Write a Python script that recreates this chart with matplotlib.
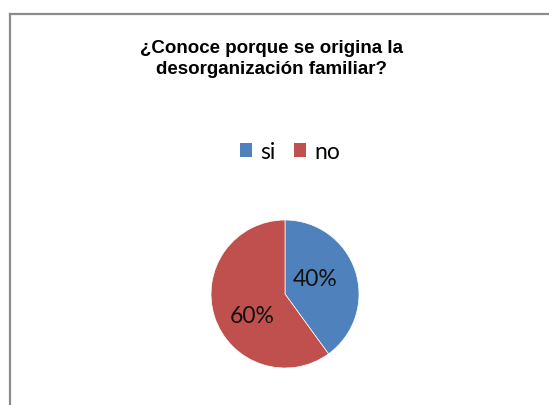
import matplotlib
matplotlib.use('Agg')
import matplotlib.pyplot as plt
from matplotlib.patches import Patch
from matplotlib.lines import Line2D

# Data
labels = ['si', 'no']
values = [40, 60]
colors = ['#4F81BD', '#C0504D']
title = '¿Conoce porque se origina la\ndesorganización familiar?'

W, H = 549, 405
fig = plt.figure(figsize=(W / 100, H / 100), dpi=100)
fig.patch.set_facecolor('white')

# Chart area border (left and top edges visible)
fig.add_artist(Line2D([9.5 / W, 9.5 / W], [0, 1 - 13.5 / H], transform=fig.transFigure,
                      color='#8c8c8c', lw=1.6))
fig.add_artist(Line2D([9.5 / W, 1], [1 - 13.5 / H, 1 - 13.5 / H], transform=fig.transFigure,
                      color='#8c8c8c', lw=1.6))

# Title
fig.text(271 / W, 1 - 59 / H, title, ha='center', va='center', fontsize=13.5,
         fontweight='bold', family='Liberation Sans', linespacing=1.25)

# Pie
cx, cy, r = 285, 294, 74
ax = fig.add_axes([(cx - r) / W, (H - cy - r) / H, 2 * r / W, 2 * r / H])
wedges, texts, autotexts = ax.pie(values, colors=colors, startangle=90, counterclock=False,
                                  autopct='%1.0f%%', pctdistance=0.56,
                                  wedgeprops=dict(edgecolor='white', linewidth=0.5),
                                  textprops=dict(fontsize=16.5, family='Lato', color='#111111'))
# label spots as Excel puts them
autotexts[0].set_position((0.41, 0.20))
autotexts[1].set_position((-0.45, -0.30))
ax.set_xlim(-1, 1)
ax.set_ylim(-1, 1)
ax.set_aspect('equal')
ax.axis('off')

# Legend
handles = [Patch(facecolor=c, edgecolor='none') for c in colors]
fig.legend(handles, labels, loc='center', bbox_to_anchor=(290 / W, 1 - 152 / H), ncol=2,
           frameon=False, prop=dict(family='Lato', size=16.5), handlelength=0.55,
           handleheight=0.55, handletextpad=0.35, columnspacing=0.8)

fig.savefig('out.png', dpi=100)
